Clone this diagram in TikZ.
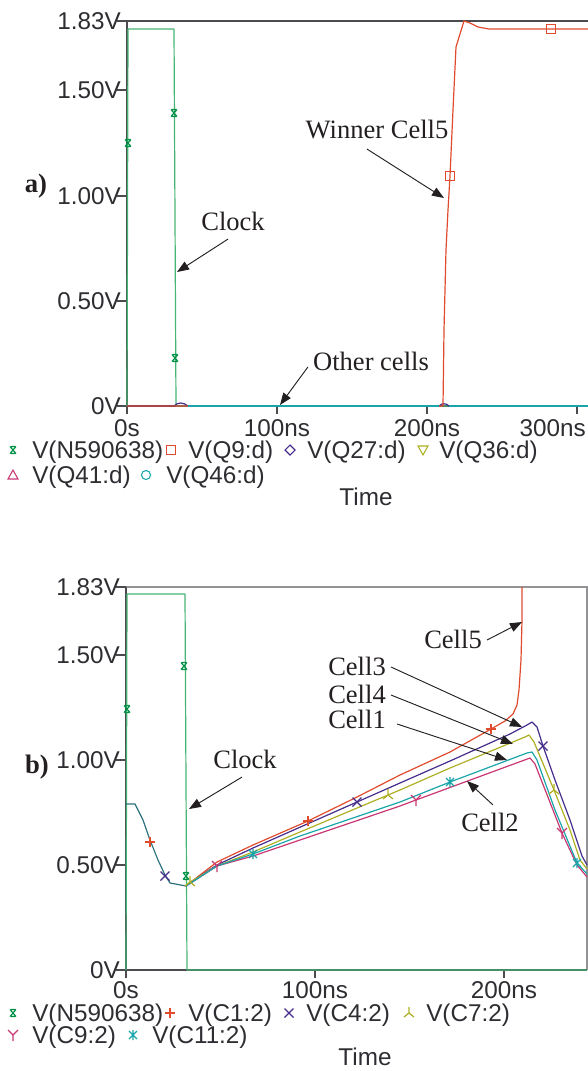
\documentclass[tikz,border=0pt]{standalone}
\usepackage{fontspec}
\setmainfont{Liberation Serif}
\newfontfamily\plotfont{Liberation Sans}
\usetikzlibrary{positioning,calc,arrows.meta}
\definecolor{clockcolor}{RGB}{70,180,115}
\definecolor{clockmark}{RGB}{0,145,70}
\definecolor{redcolor}{RGB}{225,75,45}
\definecolor{purplecolor}{RGB}{70,45,140}
\definecolor{olivecolor}{RGB}{175,175,35}
\definecolor{magentacolor}{RGB}{200,55,115}
\definecolor{tealcolor}{RGB}{25,165,170}
\definecolor{mixcolor}{RGB}{45,115,125}
\definecolor{axiscolor}{RGB}{75,75,80}
\definecolor{labelcolor}{RGB}{45,45,50}
\definecolor{inkcolor}{RGB}{35,31,32}

% marker symbols, #1 = colour, #2 = position in pixels
\newcommand{\mkclk}[2]{\draw[#1, line width=0.9pt, shift={(#2)}] (-3,-3.5) -- (3,3.5) (-3,3.5) -- (3,-3.5) (-2.5,-3.5) -- (2.5,-3.5) (-2.5,3.5) -- (2.5,3.5);}
\newcommand{\mkplus}[2]{\draw[#1, line width=0.9pt, shift={(#2)}] (-5,0) -- (5,0) (0,-5) -- (0,5);}
\newcommand{\mkcross}[2]{\draw[#1, line width=0.9pt, shift={(#2)}] (-4.5,-4.5) -- (4.5,4.5) (-4.5,4.5) -- (4.5,-4.5);}
\newcommand{\mkinvy}[2]{\draw[#1, line width=0.9pt, shift={(#2)}] (0,-6) -- (0,0) -- (-5,4) (0,0) -- (5,4);}
\newcommand{\mky}[2]{\draw[#1, line width=0.9pt, shift={(#2)}] (0,6) -- (0,0) -- (-5,-5) (0,0) -- (5,-5);}
\newcommand{\mkstar}[2]{\draw[#1, line width=0.9pt, shift={(#2)}] (-4,-4) -- (4,4) (-4,4) -- (4,-4) (0,-5) -- (0,5);}
\newcommand{\mksquare}[2]{\draw[#1, line width=0.8pt, shift={(#2)}] (-4.5,-4.5) rectangle (4.5,4.5);}
\newcommand{\mkdiamond}[2]{\draw[#1, line width=0.8pt, shift={(#2)}] (0,-5) -- (5,0) -- (0,5) -- (-5,0) -- cycle;}
\newcommand{\mkdown}[2]{\draw[#1, line width=0.8pt, shift={(#2)}] (-5,-4) -- (5,-4) -- (0,5) -- cycle;}
\newcommand{\mkup}[2]{\draw[#1, line width=0.8pt, shift={(#2)}] (-5,4) -- (5,4) -- (0,-5) -- cycle;}
\newcommand{\mkcircle}[2]{\draw[#1, line width=0.8pt, shift={(#2)}] (0,0) circle[radius=3.4pt];}

\begin{document}
\begin{tikzpicture}[
    x=0.75pt, y=-0.75pt,
    axis/.style={axiscolor, line width=1pt},
    frame/.style={axiscolor!60, line width=0.8pt},
    sig/.style={line width=0.9pt, line join=round},
    ticklab/.style={font=\plotfont\fontsize{18.2}{20}\selectfont, text=labelcolor, inner sep=0pt, text height=13pt, text depth=0pt},
    legtext/.style={ticklab, anchor=west},
    note/.style={font=\fontsize{19.9}{22}\selectfont, text=inkcolor, inner sep=0pt, text height=13.2pt, text depth=0pt},
    panel/.style={font=\bfseries\fontsize{20}{22}\selectfont, text=inkcolor, inner sep=0pt, anchor=base},
    callout/.style={-{Triangle[length=9pt,width=6.8pt]}, inkcolor, line width=0.7pt}
]
\useasboundingbox (0,0) rectangle (588,1071);

% ---------------- a) ----------------
\draw[axis] (588,21) -- (127,21) -- (127,406) -- (588,406);
\foreach \y/\lab in {21/1.83V, 90/1.50V, 196/1.00V, 301/0.50V, 406/0V} {
    \draw[axis] (117,\y) -- (127,\y);
    \node[ticklab, anchor=east] (ya-\y) at (121,\y) {\lab};
}
\foreach \x/\lab in {127/0s, 277/100ns, 427/200ns} {
    \draw[axis] (\x,406) -- (\x,414);
    \node[ticklab] (xa-\x) at (\x,428) {\lab};
}
\draw[axis] (577,406) -- (577,414);
\node[ticklab, anchor=east] (xa-577) at (586,428) {300ns};

% traces
\draw[sig, clockcolor] (127,406) -- (128,29) -- (174,29) -- (176,406) -- (588,406);
\draw[sig, purplecolor] (127,406) -- (174,406) .. controls (178,402) and (183,402) .. (188,406) -- (439,406) .. controls (442,403) and (446,403) .. (449,406) -- (588,406);
\draw[sig, redcolor] (127,406) -- (443,406) -- (444,330) -- (446,250) -- (448,210) -- (450,176) -- (453,110) -- (456,47) -- (464,21) -- (470,23) -- (478,27) -- (489,29) -- (588,29);
\draw[sig, tealcolor] (188,406) -- (439,406) (449,406) -- (588,406);

\mkclk{clockmark}{128,143}
\mkclk{clockmark}{174,113}
\mkclk{clockmark}{175,358}
\mksquare{redcolor}{450,176}
\mksquare{redcolor}{551,29}

% annotations
\node[panel] (tag-a) at (36,192) {a)};
\node[note] (clk-a) at (233,222) {Clock};
\coordinate (clk-a-tip) at (177,272);
\draw[callout] ($(clk-a.south)+(-5,8)$) -- (clk-a-tip);
\node[note] (winner) at (377,130) {Winner Cell5};
\coordinate (winner-tip) at (444,198);
\draw[callout] ($(winner.south)+(-10,10)$) -- (winner-tip);
\node[note] (others) at (371,362) {Other cells};
\coordinate (others-tip) at (280,405);
\draw[callout] ($(others.west)+(-5,5)$) -- (others-tip);

% legend
\mkclk{clockmark}{13,450}
\node[legtext] (la1) at (32,450) {V(N590638)};
\mksquare{redcolor}{171,450}
\node[legtext] (la2) at (188,450) {V(Q9:d)};
\mkdiamond{purplecolor}{290,450}
\node[legtext] (la3) at (307,450) {V(Q27:d)};
\mkdown{olivecolor}{423,450}
\node[legtext] (la4) at (439,450) {V(Q36:d)};
\mkup{magentacolor}{13,475}
\node[legtext] (la5) at (32,475) {V(Q41:d)};
\mkcircle{tealcolor}{146,475}
\node[legtext] (la6) at (166,475) {V(Q46:d)};
\node[ticklab] (time-a) at (366,497) {Time};

% ---------------- b) ----------------
\draw[frame] (126,587) -- (587,587) -- (587,970);
\draw[axis] (126,587) -- (126,970) -- (587,970);
\foreach \y/\lab in {587/1.83V, 655/1.50V, 760/1.00V, 865/0.50V, 970/0V} {
    \draw[axis] (116,\y) -- (126,\y);
    \node[ticklab, anchor=east] (yb-\y) at (120,\y) {\lab};
}
\foreach \x/\lab in {126/0s, 315/100ns, 504/200ns} {
    \draw[axis] (\x,970) -- (\x,978);
    \node[ticklab] (xb-\x) at (\x,990) {\lab};
}

% traces
\draw[sig, clockcolor] (126,970) -- (127,594) -- (185,594) -- (187,970) -- (587,970);
\draw[sig, redcolor] (186,886) -- (200,875) -- (217,862) -- (253,845) -- (308,821) -- (357,797) -- (400,775) -- (450,752) -- (491,729) -- (505,721) -- (513,714) -- (517,705) -- (519,690) -- (521,660) -- (522,620) -- (522,587);
\draw[sig, purplecolor] (186,886) -- (200,876) -- (217,865) -- (253,848) -- (357,802) -- (400,783) -- (450,761) -- (510,734) -- (527,725) -- (532,722) -- (537,727) -- (543,746) -- (555,780) -- (570,820) -- (582,856) -- (587,865);
\draw[sig, olivecolor] (186,886) -- (190,882) -- (217,866) -- (253,852) -- (300,832) -- (388,795) -- (400,790) -- (450,768) -- (525,737) -- (529,735) -- (534,742) -- (554,790) -- (570,830) -- (580,860) -- (587,869);
\draw[sig, magentacolor] (186,886) -- (217,866) -- (253,856) -- (300,840) -- (400,806) -- (416,800) -- (530,758) -- (535,764) -- (562,833) -- (577,865) -- (587,877);
\draw[sig, tealcolor] (186,886) -- (217,866) -- (253,854) -- (300,836) -- (400,802) -- (450,782) -- (527,753) -- (532,752) -- (537,760) -- (555,810) -- (577,863) -- (587,874);
\draw[sig, mixcolor] (126,804) -- (135,804) -- (143,820) -- (150,840) -- (158,860) -- (165,875) -- (170,883) -- (186,886);

\mkclk{clockmark}{127,709}
\mkclk{clockmark}{184,666}
\mkclk{clockmark}{186,876}
\mkplus{redcolor}{150,842}
\mkplus{redcolor}{308,821}
\mkplus{redcolor}{491,729}
\mkcross{purplecolor}{165,876}
\mkcross{purplecolor}{357,802}
\mkcross{purplecolor}{543,746}
\mkinvy{olivecolor}{190,882}
\mkinvy{olivecolor}{388,795}
\mkinvy{olivecolor}{554,790}
\mky{magentacolor}{217,866}
\mky{magentacolor}{416,800}
\mky{magentacolor}{562,833}
\mkstar{tealcolor}{253,854}
\mkstar{tealcolor}{450,782}
\mkstar{tealcolor}{577,863}

% annotations
\node[panel] (tag-b) at (37,773) {b)};
\node[note] (clk-b) at (245,760) {Clock};
\coordinate (clk-b-tip) at (189,809);
\draw[callout] ($(clk-b.south)+(-3,8)$) -- (clk-b-tip);
\node[note, anchor=west] (cell5) at (424,640) {Cell5};
\coordinate (cell5-tip) at (522,622);
\draw[callout] ($(cell5.east)+(5,0)$) -- (cell5-tip);
\node[note, anchor=west] (cell3) at (328,667) {Cell3};
\coordinate (cell3-tip) at (522,727);
\draw[callout] ($(cell3.east)+(5,0)$) -- (cell3-tip);
\node[note, anchor=west] (cell4) at (328,695) {Cell4};
\coordinate (cell4-tip) at (513,744);
\draw[callout] ($(cell4.east)+(5,0)$) -- (cell4-tip);
\node[note, anchor=west] (cell1) at (328,720) {Cell1};
\coordinate (cell1-tip) at (507,760);
\draw[callout] ($(cell1.east)+(11,4)$) -- (cell1-tip);
\node[note] (cell2) at (490,823) {Cell2};
\coordinate (cell2-tip) at (467,781);
\draw[callout] ($(cell2.north)+(3,-9)$) -- (cell2-tip);

% legend
\mkclk{clockmark}{13,1013}
\node[legtext] (lb1) at (32,1013) {V(N590638)};
\mkplus{redcolor}{170,1013}
\node[legtext] (lb2) at (188,1013) {V(C1:2)};
\mkcross{purplecolor}{289,1013}
\node[legtext] (lb3) at (306,1013) {V(C4:2)};
\mkinvy{olivecolor}{409,1013}
\node[legtext] (lb4) at (426,1013) {V(C7:2)};
\mky{magentacolor}{13,1035}
\node[legtext] (lb5) at (32,1035) {V(C9:2)};
\mkstar{tealcolor}{133,1035}
\node[legtext] (lb6) at (152,1035) {V(C11:2)};
\node[ticklab] (time-b) at (365,1057) {Time};

\end{tikzpicture}
\end{document}
